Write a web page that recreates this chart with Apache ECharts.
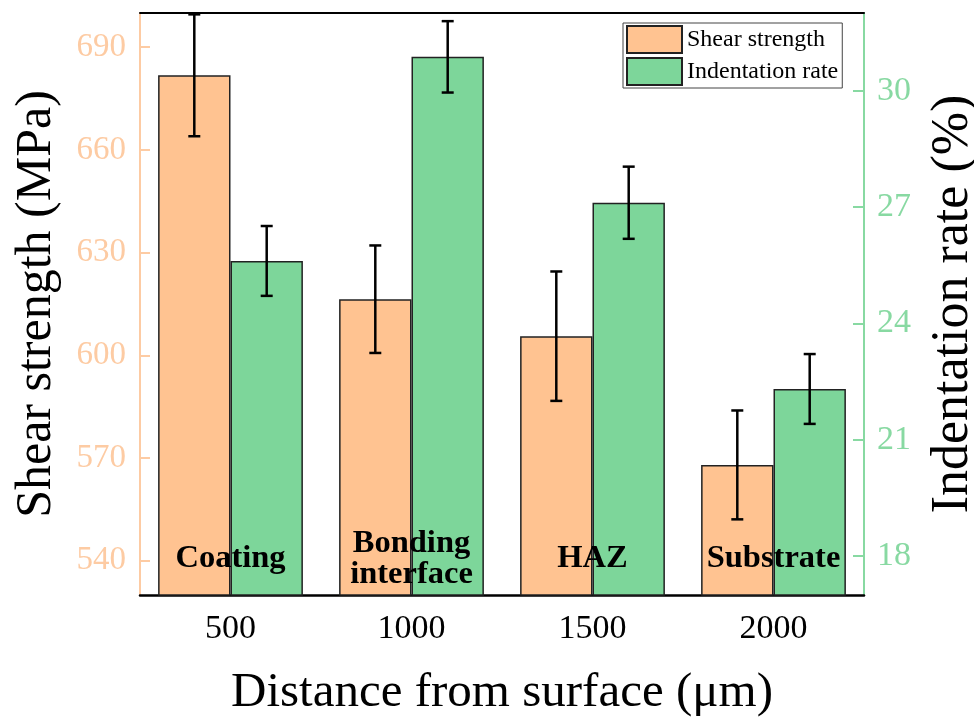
<!DOCTYPE html>
<html>
<head>
<meta charset="utf-8">
<title>Shear strength and indentation rate</title>
<script src="https://cdn.jsdelivr.net/npm/echarts@6/dist/echarts.min.js"></script>
</head>
<body style="margin:0">
<div id="main" style="width:974px;height:718px"></div>
<script>
// data
var distances = ['500', '1000', '1500', '2000'];
var regions = ['Coating', 'Bonding\ninterface', 'HAZ', 'Substrate'];
var shearStrength = [681.8, 616.4, 605.6, 568.0];
var shearError = [17.8, 15.7, 18.9, 15.9];
var indentRate = [25.61, 30.87, 27.11, 22.31];
var indentError = [0.90, 0.92, 0.93, 0.90];
var shearTicks = [540, 570, 600, 630, 660, 690];
var rateTicks = [18, 21, 24, 27, 30];

var serif = 'Liberation Serif';
var orange = '#FFC391';
var green = '#7DD69A';
var peach = '#FDCBA3';
var lightGreen = '#88D9A2';

// vertical error bar with caps, shifted to the bar centre
function errorBar(offset) {
    return function (params, api) {
        var i = api.value(0);
        var hi = api.coord([i, api.value(1) + api.value(2)]);
        var lo = api.coord([i, api.value(1) - api.value(2)]);
        var band = api.size([1, 0])[0];
        var x = hi[0] + offset * band;
        var cap = 6;
        var st = {stroke: '#000', lineWidth: 2.5};
        return {
            type: 'group',
            children: [
                {type: 'line', shape: {x1: x, y1: hi[1], x2: x, y2: lo[1]}, style: st},
                {type: 'line', shape: {x1: x - cap, y1: hi[1], x2: x + cap, y2: hi[1]}, style: st},
                {type: 'line', shape: {x1: x - cap, y1: lo[1], x2: x + cap, y2: lo[1]}, style: st}
            ]
        };
    };
}

var chart = echarts.init(document.getElementById('main'));
chart.setOption({
    animation: false,
    backgroundColor: '#fff',
    grid: {left: 140, right: 110, top: 13, bottom: 123, outerBoundsMode: 'none'},
    legend: {
        data: ['Shear strength', 'Indentation rate'],
        orient: 'vertical',
        left: 623, top: 23,
        padding: [2, 4, 2, 3],
        icon: 'rect',
        itemWidth: 55, itemHeight: 27, itemGap: 3,
        borderColor: '#444', borderWidth: 1,
        textStyle: {color: '#000', fontSize: 24, fontFamily: serif}
    },
    xAxis: [{
        type: 'category',
        data: distances,
        position: 'bottom',
        axisLine: {lineStyle: {color: '#000', width: 2.5}},
        axisTick: {show: false},
        axisLabel: {color: '#000', fontSize: 34, fontFamily: serif, margin: 17},
        name: 'Distance from surface (μm)',
        nameLocation: 'middle',
        nameGap: 74,
        nameTextStyle: {color: '#000', fontSize: 49, fontFamily: serif}
    }, {
        type: 'category',
        data: distances,
        position: 'top',
        axisLine: {lineStyle: {color: '#000', width: 2}},
        axisTick: {show: false},
        axisLabel: {show: false}
    }],
    yAxis: [{
        type: 'value',
        min: 530, max: 700,
        position: 'left',
        axisLine: {show: true, lineStyle: {color: peach, width: 2}},
        axisTick: {show: true, inside: true, length: 10, customValues: shearTicks,
            lineStyle: {color: peach, width: 2}},
        axisLabel: {color: peach, fontSize: 33, fontFamily: serif, margin: 14, customValues: shearTicks},
        splitLine: {show: false},
        name: 'Shear strength (MPa)',
        nameLocation: 'middle',
        nameGap: 78,
        nameTextStyle: {color: '#000', fontSize: 50, fontFamily: serif}
    }, {
        type: 'value',
        min: 17, max: 32,
        position: 'right',
        axisLine: {show: true, lineStyle: {color: lightGreen, width: 2}},
        axisTick: {show: true, inside: true, length: 11, customValues: rateTicks,
            lineStyle: {color: lightGreen, width: 2}},
        axisLabel: {color: lightGreen, fontSize: 34, fontFamily: serif, margin: 13, customValues: rateTicks},
        splitLine: {show: false},
        name: 'Indentation rate (%)',
        nameLocation: 'middle',
        nameGap: 63,
        nameTextStyle: {color: '#000', fontSize: 52, fontFamily: serif}
    }],
    series: [{
        name: 'Shear strength',
        type: 'bar',
        yAxisIndex: 0,
        data: shearStrength,
        barWidth: '40%',
        barGap: '0%',
        itemStyle: {color: orange, borderColor: '#222', borderWidth: 1.5}
    }, {
        name: 'Indentation rate',
        type: 'bar',
        yAxisIndex: 1,
        data: indentRate,
        barWidth: '40%',
        barGap: '0%',
        itemStyle: {color: green, borderColor: '#222', borderWidth: 1.5}
    }, {
        name: 'shear error',
        type: 'custom',
        yAxisIndex: 0,
        z: 4,
        renderItem: errorBar(-0.2),
        data: shearStrength.map(function (v, i) { return [i, v, shearError[i]]; })
    }, {
        name: 'rate error',
        type: 'custom',
        yAxisIndex: 1,
        z: 4,
        renderItem: errorBar(0.2),
        data: indentRate.map(function (v, i) { return [i, v, indentError[i]]; })
    }, {
        name: 'regions',
        type: 'custom',
        yAxisIndex: 0,
        z: 5,
        renderItem: function (params, api) {
            var p = api.coord([api.value(0), 540.6]);
            return {
                type: 'text',
                x: p[0], y: p[1],
                style: {
                    text: regions[params.dataIndex],
                    fill: '#000',
                    font: 'bold 32.5px "Liberation Serif"',
                    align: 'center',
                    verticalAlign: 'middle',
                    lineHeight: 31
                }
            };
        },
        data: regions.map(function (r, i) { return [i]; })
    }]
});
</script>
</body>
</html>
